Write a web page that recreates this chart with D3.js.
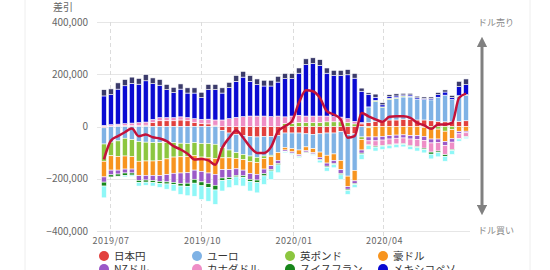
<!DOCTYPE html>
<html lang="ja">
<head>
<meta charset="UTF-8">
<title>通貨別ポジション</title>
<script src="https://d3js.org/d3.v7.min.js"></script>
<style>
  body { margin: 0; background: #fff; font-family: "Noto Sans CJK JP", "Noto Sans", sans-serif; }
  .hgrid { stroke: #e6e6e6; stroke-width: 1; }
  .vgrid { stroke: #dcdcdc; stroke-dasharray: 4,3; }
  .ylab { font-size: 10px; fill: #666; }
  .xlab { font-size: 9px; fill: #666; letter-spacing: 0.5px; }
  .legend text { font-size: 10.5px; fill: #333; }
  .side { font-size: 9px; fill: #888; }
</style>
</head>
<body>
<svg width="550" height="270"></svg>
<script>
// weekly dates (Tuesdays)
const weeks = d3.timeTuesday.range(new Date(2019, 5, 25), new Date(2020, 5, 24));

const currencies = ["日本円", "ユーロ", "英ポンド", "豪ドル", "NZドル", "カナダドル", "スイスフラン", "メキシコペソ", "ロシアルーブル", "南アランド"];
const colors = ["#e2403d", "#7fb2e5", "#8cc63f", "#f7941e", "#9b59c8", "#ee8ec6", "#17861b", "#0a0ad2", "#3b3b6b", "#8ff7f7"];

// values in thousands
const jpy = [-5, 2, 3, 3, 3, 3, 5, 15, 22, 22, 22, 25, 22,
  15, 12, 10, 5, -15, -25, -30, -35, -38, -40, -38, -38, -35,
  -25, -25, -25, -28, -30, -28, -25, -25, -20, -30, -28, 10, 15,
  20, 22, 25, 25, 28, 28, 25, 25, 22, 20, 18, 18, 20, 22];
const eur = [-62, -60, -55, -45, -50, -58, -60, -62, -62, -62, -62, -64, -65,
  -62, -65, -65, -68, -65, -65, -70, -72, -75, -78, -75, -72, -65,
  -55, -60, -65, -50, -55, -70, -85, -80, -110, -160, -140, -40, 60,
  75, 50, 78, 82, 85, 85, 80, 78, 80, 92, 102, 85, 95, 98];
const gbp = [-66, -52, -60, -68, -65, -75, -72, -70, -68, -62, -55, -52, -50,
  -50, -52, -55, -55, -40, -30, -22, -20, -22, -20, -10, -5, 0,
  12, 12, 15, 15, 15, 15, 18, 18, 18, 15, 10, -10, -5,
  5, 3, 5, 4, 4, 3, 0, -3, -8, -10, -18, -12, 3, 2];
const aud = [-60, -55, -52, -50, -48, -55, -55, -55, -58, -60, -62, -62, -62,
  -55, -55, -58, -60, -45, -45, -40, -40, -45, -45, -40, -35, -30,
  -10, -12, -18, -15, -15, -20, -30, -25, -35, -40, -40, -40, -35,
  -40, -38, -35, -33, -32, -35, -35, -35, -40, -38, -40, -35, -20, -18];
const nzd = [-20, -18, -15, -15, -15, -18, -18, -20, -22, -28, -35, -40, -40,
  -35, -40, -40, -42, -32, -30, -25, -22, -22, -22, -18, -15, -12,
  -5, -5, -5, -5, -5, -8, -12, -12, -15, -10, -10, -12, -15,
  -15, -14, -13, -12, -12, -13, -14, -15, -15, -14, -15, -13, -8, -6];
const cad = [4, 5, 6, 8, 10, 12, 12, 12, 12, 12, 12, 12, 12,
  15, 15, 18, 20, 25, 30, 35, 38, 40, 40, 40, 38, 40,
  25, 28, 28, 25, 25, 25, 22, 20, 18, 15, 10, 5, -15,
  -20, -20, -22, -22, -22, -25, -28, -30, -35, -32, -35, -28, -18, -15];
const chf = [-15, -8, -8, -10, -8, -8, -8, -8, -8, -8, -8, -10, -12,
  -15, -15, -15, -18, -10, -8, -6, -6, -8, -10, -8, -5, -5,
  -2, -2, -3, -3, -3, -3, -4, -4, -5, -5, -4, -4, -3,
  -4, -3, -3, -2, -2, -3, -4, -5, -8, -6, -6, -4, -2, -2];
const mxn = [113, 115, 134, 145, 152, 147, 158, 137, 124, 107, 96, 106, 94,
  98, 84, 113, 116, 103, 119, 138, 151, 133, 120, 115, 117, 130,
  146, 143, 161, 197, 201, 194, 164, 157, 159, 168, 165, 120, 48,
  12, 8, 6, 6, 4, 5, 5, 4, 5, 10, 12, 8, 35, 38];
const rub = [24, 22, 24, 24, 24, 22, 24, 22, 22, 20, 20, 20, 20,
  20, 20, 20, 20, 20, 20, 22, 22, 22, 22, 22, 22, 22,
  20, 20, 20, 22, 22, 22, 20, 20, 20, 20, 18, 12, 6,
  12, 8, 8, 8, 6, 6, 6, 6, 6, 8, 8, 8, 20, 22];
const zar = [-45, 0, 0, -5, -5, -14, -12, -13, -15, -20, -25, -32, -36,
  -50, -52, -53, -55, -40, -31, -33, -33, -37, -39, -33, -33, -30,
  -4, -3, -4, 0, -3, -10, -15, -12, -18, -15, -12, -20, -15,
  -15, -13, -12, -12, -10, -12, -13, -13, -18, -16, -19, -15, -8, -6];
// net (red line)
const net = [-126, -54, -37, -22, -8, -37, -31, -41, -46, -56, -75, -88, -104,
  -126, -124, -130, -146, -81, -43, -15, -43, -78, -101, -101, -78, -18,
  1, 20, 91, 139, 135, 110, 59, 46, 27, -43, -37, 52, 39,
  27, 18, 37, 39, 39, 33, 14, 4, -9, 8, 8, 14, 110, 126];

const yTicks = [400000, 200000, 0, -200000, -400000];
const xTicks = [new Date(2019, 6, 1), new Date(2019, 9, 1), new Date(2020, 0, 1), new Date(2020, 3, 1)];

const seriesVals = [jpy, eur, gbp, aud, nzd, cad, chf, mxn, rub, zar];
const rows = weeks.map((d, i) => {
  const r = { date: d };
  currencies.forEach((c, k) => r[c] = seriesVals[k][i] * 1000);
  return r;
});

const svg = d3.select("svg");
const plotL = 97, plotR = 470, plotT = 22, plotB = 231;

const x = d3.scaleTime().domain([new Date(2019, 5, 18), new Date(2020, 5, 27)]).range([plotL, plotR]);
const y = d3.scaleLinear().domain([-400000, 400000]).range([plotB, plotT]);

// card edges
svg.append("line").attr("x1", 25).attr("x2", 25).attr("y1", 0).attr("y2", 270).attr("stroke", "#eeeeee");
svg.append("line").attr("x1", 530).attr("x2", 530).attr("y1", 0).attr("y2", 270).attr("stroke", "#eeeeee");

// grid
svg.append("g").selectAll("line").data(yTicks).join("line")
  .attr("class", "hgrid")
  .attr("x1", plotL).attr("x2", plotR)
  .attr("y1", d => Math.round(y(d)) + 0.5).attr("y2", d => Math.round(y(d)) + 0.5);

svg.append("g").selectAll("line").data(xTicks).join("line")
  .attr("class", "vgrid")
  .attr("x1", d => Math.round(x(d)) + 0.5).attr("x2", d => Math.round(x(d)) + 0.5)
  .attr("y1", plotT).attr("y2", plotB + 6);

svg.append("g").selectAll("text").data(yTicks).join("text")
  .attr("class", "ylab")
  .attr("x", 88).attr("y", d => y(d) + 3.5)
  .attr("text-anchor", "end")
  .text(d => d3.format(",")(d));

svg.append("text").attr("class", "ylab").attr("x", 53).attr("y", 11).text("差引");

svg.append("g").selectAll("text").data(xTicks).join("text")
  .attr("class", "xlab")
  .attr("x", d => x(d) + 1).attr("y", 244)
  .attr("text-anchor", "middle")
  .text(d3.timeFormat("%Y/%m"));

// stacked bars
const stack = d3.stack().keys(currencies).offset(d3.stackOffsetDiverging);
const layers = stack(rows);
const bw = 5;

svg.append("g").selectAll("g").data(layers).join("g")
  .attr("fill", (d, i) => colors[i])
  .selectAll("rect").data(d => d).join("rect")
  .attr("x", d => x(d.data.date) - bw / 2)
  .attr("width", bw)
  .attr("y", d => y(Math.max(d[0], d[1])))
  .attr("height", d => Math.abs(y(d[0]) - y(d[1])))
  .attr("stroke", "#fff")
  .attr("stroke-width", 0.6);

// net line
const line = d3.line()
  .x((d, i) => x(weeks[i]))
  .y(d => y(d * 1000))
  .curve(d3.curveMonotoneX);

svg.append("path").datum(net)
  .attr("d", line)
  .attr("fill", "none")
  .attr("stroke", "#c4123a")
  .attr("stroke-width", 2.5)
  .attr("stroke-linejoin", "round");

// side arrow
const defs = svg.append("defs");
defs.append("marker").attr("id", "ah").attr("viewBox", "0 0 10 10")
  .attr("refX", 5).attr("refY", 5).attr("markerWidth", 3.5).attr("markerHeight", 3.5)
  .attr("orient", "auto-start-reverse")
  .append("path").attr("d", "M0,0L10,5L0,10Z").attr("fill", "#808080");

svg.append("line").attr("x1", 482).attr("x2", 482).attr("y1", 42).attr("y2", 210)
  .attr("stroke", "#808080").attr("stroke-width", 3)
  .attr("marker-start", "url(#ah)").attr("marker-end", "url(#ah)");

svg.append("text").attr("class", "side").attr("x", 478).attr("y", 26).text("ドル売り");
svg.append("text").attr("class", "side").attr("x", 478).attr("y", 234).text("ドル買い");

// legend (third row falls below the visible area, as in the original)
const lg = svg.append("g").attr("class", "legend").selectAll("g").data(currencies).join("g")
  .attr("transform", (d, i) => `translate(${104 + (i % 4) * 93},${256 + Math.floor(i / 4) * 13})`);
lg.append("circle").attr("r", 5).attr("fill", (d, i) => colors[i]);
lg.append("text").attr("x", 10).attr("y", 4).text(d => d);
</script>
</body>
</html>
